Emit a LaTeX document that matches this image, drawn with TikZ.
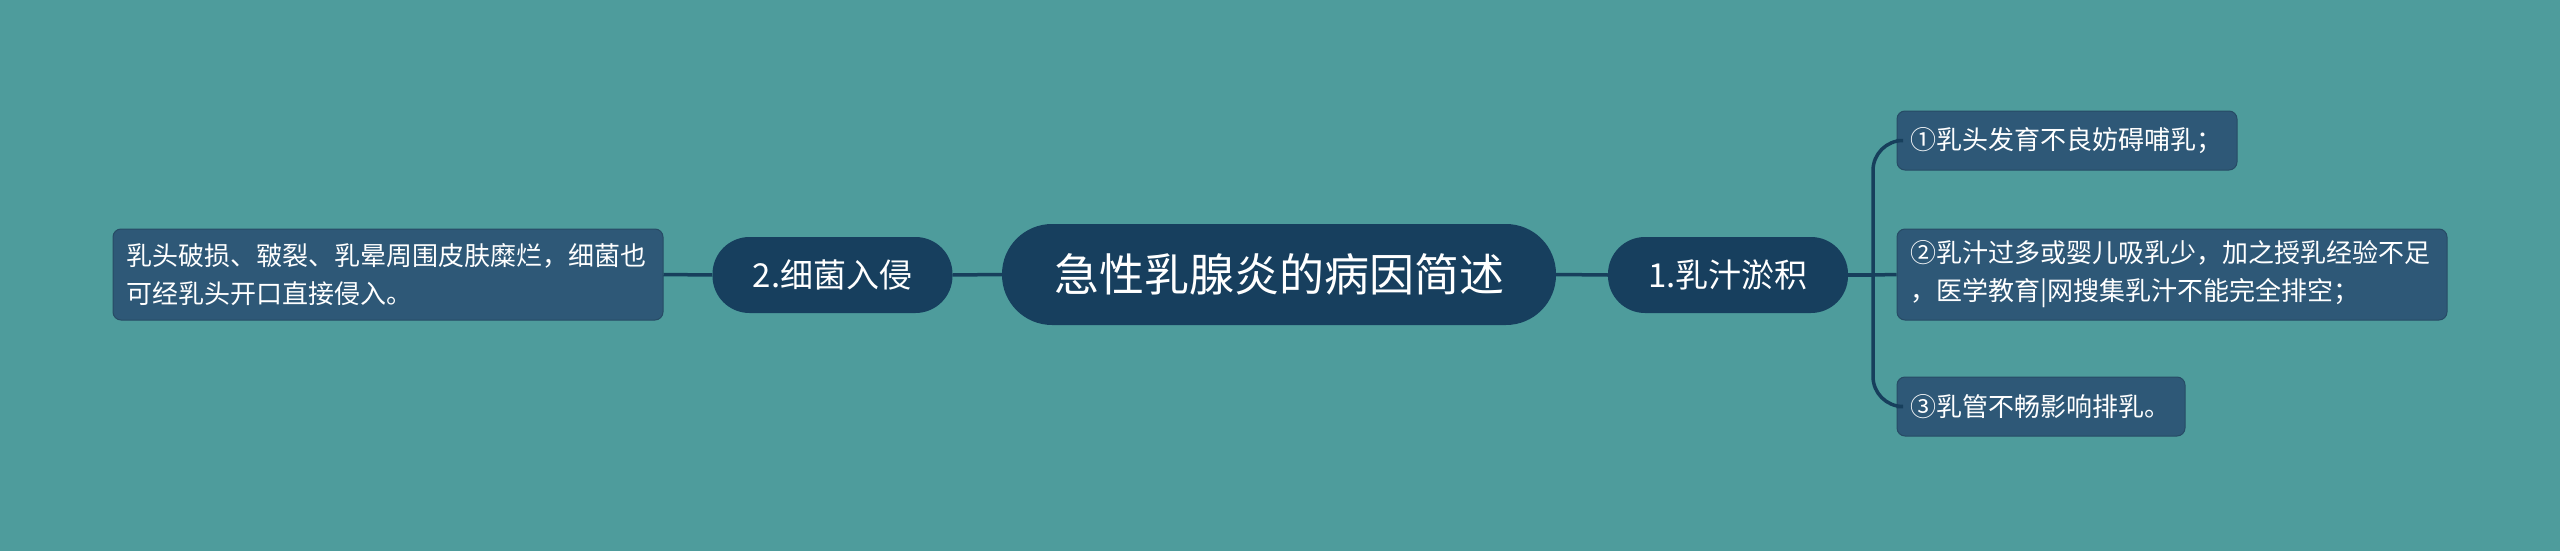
\documentclass[tikz,border=0pt]{standalone}
\usepackage{fontspec}
\setmainfont{Noto Sans CJK SC}
\definecolor{bg}{HTML}{4E9C9C}
\definecolor{rootc}{HTML}{173F5E}
\definecolor{leafc}{HTML}{2E5877}
\definecolor{linec}{HTML}{173F5C}
\tikzset{
  rootbox/.style={fill=rootc, text=white, rounded corners=50pt, minimum width=554pt, minimum height=101pt, inner sep=0pt, font=\fontsize{45}{54}\selectfont},
  branchbox/.style={fill=rootc, text=white, rounded corners=37pt, minimum width=240pt, minimum height=76pt, inner sep=0pt, font=\fontsize{33}{40}\selectfont},
  leafbox/.style={fill=leafc, draw=leafc!85!black, line width=1pt, text=white, rounded corners=8pt, inner xsep=13pt, inner ysep=0pt, align=left, font=\fontsize{26}{38}\selectfont},
  conn/.style={draw=linec, line width=3.5pt},
}
\begin{document}
\begin{tikzpicture}[x=1pt,y=-1pt]
\fill[bg] (0,0) rectangle (2560,551);
\useasboundingbox (0,0) rectangle (2560,551);
\node[rootbox] (root) at (1279,274.5) {急性乳腺炎的病因简述};
\node[branchbox] (b1) at (1728,275) {1.乳汁淤积};
\node[branchbox] (b2) at (832.5,275) {2.细菌入侵};
\node[leafbox, minimum width=550pt, minimum height=91pt, text width=524pt] (L) at (388,274.5) {乳头破损、皲裂、乳晕周围皮肤糜烂，细菌也\\可经乳头开口直接侵入。};
\node[leafbox, minimum width=340pt, minimum height=59pt, text width=314pt] (R1) at (2067,140.5) {①乳头发育不良妨碍哺乳；};
\node[leafbox, minimum width=550pt, minimum height=91pt, text width=524pt] (R2) at (2172,274.5) {②乳汁过多或婴儿吸乳少，加之授乳经验不足\\，医学教育|网搜集乳汁不能完全排空；};
\node[leafbox, minimum width=288pt, minimum height=59pt, text width=262pt] (R3) at (2041,406.5) {③乳管不畅影响排乳。};
\coordinate (fork) at (1873,275);
\begin{scope}[on background layer/.style={}]
\draw[conn] (root.east) -- (b1.west);
\draw[conn] (root.west) -- (b2.east);
\draw[conn] (b2.west) -- (L.east);
\draw[conn] (b1.east) -- (fork);
\draw[conn, rounded corners=30pt] (fork) |- (R1.west);
\draw[conn] (fork) -- (R2.west);
\draw[conn, rounded corners=30pt] (fork) |- (R3.west);
\end{scope}
\end{tikzpicture}
\end{document}
